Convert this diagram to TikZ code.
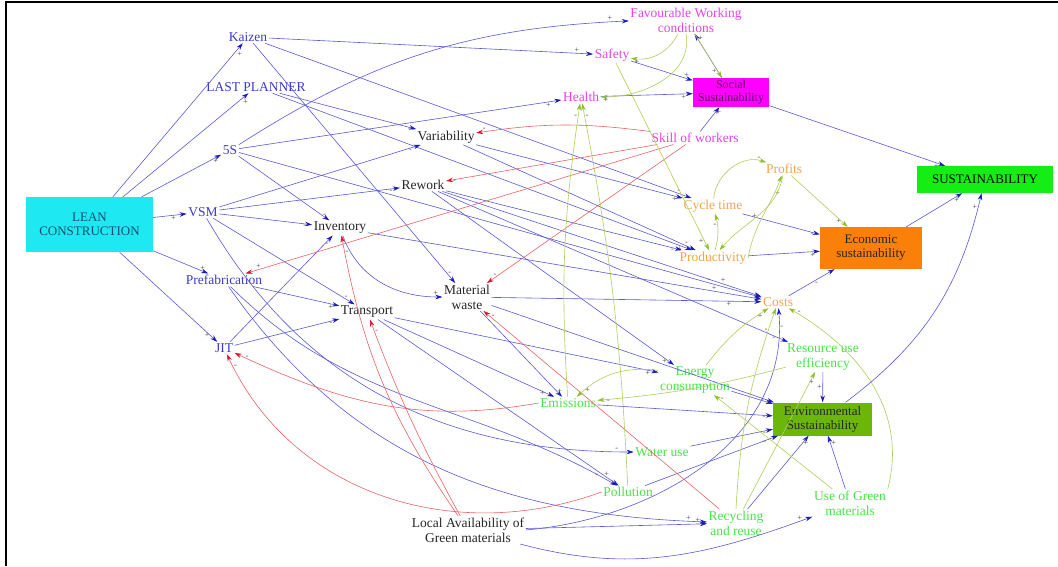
\documentclass[tikz,border=0pt]{standalone}
\usepackage{fontspec}
\setmainfont{Liberation Serif}
\usetikzlibrary{arrows.meta}
\definecolor{lblue}{RGB}{90,90,215}
\definecolor{tblue}{RGB}{25,25,190}
\definecolor{lred}{RGB}{232,100,100}
\definecolor{tred}{RGB}{220,20,40}
\definecolor{lgreen}{RGB}{175,205,95}
\definecolor{tgreen}{RGB}{140,190,40}
\definecolor{nblue}{RGB}{60,60,205}
\definecolor{nmag}{RGB}{230,70,230}
\definecolor{norange}{RGB}{240,165,80}
\definecolor{ngreen}{RGB}{70,230,70}
\definecolor{cyanf}{RGB}{30,232,242}
\definecolor{leantext}{RGB}{20,80,110}
\definecolor{magf}{RGB}{255,0,255}
\definecolor{magtext}{RGB}{90,0,100}
\definecolor{greenf}{RGB}{20,238,20}
\definecolor{orangef}{RGB}{250,128,10}
\definecolor{envf}{RGB}{108,182,10}
\tikzset{
  lb/.style={draw=lblue, line width=0.6pt, -{Stealth[length=7pt,width=4.5pt,color=tblue]}},
  lr/.style={draw=lred, line width=0.6pt, -{Stealth[length=7pt,width=4.5pt,color=tred]}},
  lg/.style={draw=lgreen, line width=0.6pt, -{Stealth[length=7pt,width=4.5pt,color=tgreen]}},
  sg/.style={font=\fontsize{8}{8}\selectfont, text=black!75, inner sep=0.8pt},
  tb/.style={text=nblue},
  tk/.style={text=black!85},
  tm/.style={text=nmag},
  to/.style={text=norange},
  tg/.style={text=ngreen},
  box/.style={font=\fontsize{13}{14}\selectfont, inner sep=2pt},
}
\begin{document}
\begin{tikzpicture}[x=1pt,y=1pt, every node/.style={font=\fontsize{13.5}{15}\selectfont, align=center, inner sep=1.5pt}]
\useasboundingbox (0,0) rectangle (1058,-566);
\fill[white] (0,0) rectangle (1058,-566);
\draw[line width=1.6pt] (6,-566) -- (6,-2) -- (1058,-2);

% nodes
\node[box, fill=cyanf, text=leantext, minimum width=127pt, minimum height=55pt] (lean) at (89.5,-224.5) {LEAN\\CONSTRUCTION};
\node[tb] (kaizen) at (248,-37) {Kaizen};
\node[tb] (lp) at (256,-87) {LAST PLANNER};
\node[tb] (fs) at (230,-150) {5S};
\node[tb] (vsm) at (203,-212) {VSM};
\node[tb] (prefab) at (224,-280) {Prefabrication};
\node[tb] (jit) at (224,-348) {JIT};
\node[tk] (inv) at (340,-228) {Inventory};
\node[tk] (trans) at (367,-312) {Transport};
\node[tk] (var) at (446,-137) {Variability};
\node[tk] (rew) at (423,-185) {Rework};
\node[tk] (mw) at (467,-297) {Material\\waste};
\node[tm] (fav) at (686,-20) {Favourable Working\\conditions};
\node[tm] (safety) at (612,-55) {Safety};
\node[tm] (health) at (581,-97) {Health};
\node[tm] (skill) at (695,-138) {Skill of workers};
\node[box, fill=magf, text=magtext, minimum width=76pt, minimum height=29pt, font=\fontsize{12}{13}\selectfont] (social) at (731,-92.5) {Social\\Sustainability};
\node[box, fill=greenf, text=black, minimum width=136pt, minimum height=27pt] (sust) at (985,-179.5) {SUSTAINABILITY};
\node[to] (profits) at (784,-169) {Profits};
\node[to] (cycle) at (713,-206) {Cycle time};
\node[to] (prod) at (713,-258) {Productivity};
\node[box, fill=orangef, text=black!85, minimum width=102pt, minimum height=42pt] (econ) at (871,-248) {Economic\\sustainability};
\node[to] (costs) at (778,-302) {Costs};
\node[tg] (res) at (823,-357) {Resource use\\efficiency};
\node[tg] (energy) at (695,-380) {Energy\\consumption};
\node[tg] (emis) at (568,-403) {Emissions};
\node[box, fill=envf, text=black!85, minimum width=99pt, minimum height=33pt] (env) at (822.5,-419) {Environmental\\Sustainability};
\node[tg] (water) at (662,-452) {Water use};
\node[tg] (poll) at (628,-492) {Pollution};
\node[tg] (recyc) at (736,-523) {Recycling\\and reuse};
\node[tg] (ugm) at (850,-503) {Use of Green\\materials};
\node[tk] (local) at (468,-530) {Local Availability of\\Green materials};

% blue links
\draw[lb] (lean) -- node[sg,pos=.95,below right]{+} (kaizen);
\draw[lb] (lean) -- node[sg,pos=.95,below right]{+} (lp);
\draw[lb] (lean) -- node[sg,pos=.93,below]{+} (fs);
\draw[lb] (lean) -- node[sg,pos=.6,below]{+} (vsm);
\draw[lb] (lean) -- node[sg,pos=.9,above]{+} (prefab);
\draw[lb] (lean) -- node[sg,pos=.93,left]{+} (jit);
\draw[lb] (kaizen) -- node[sg,pos=.95,above]{+} (safety);
\draw[lb] (kaizen) -- node[sg,pos=.97,above]{-} (cycle);
\draw[lb] (kaizen) -- node[sg,pos=.96,right]{-} (mw);
\draw[lb] (lp) -- node[sg,pos=.95,below]{-} (var);
\draw[lb] (lp) -- node[sg,pos=.97,below]{+} (prod);
\draw[lb] (fs) to[bend left=15] node[sg,pos=.96,above]{+} (fav);
\draw[lb] (fs) -- node[sg,pos=.96,below]{+} (health);
\draw[lb] (fs) -- node[sg,pos=.92,right]{-} (inv);
\draw[lb] (fs) -- node[sg,pos=.9,above]{-} (costs);
\draw[lb] (vsm) -- node[sg,pos=.95,below]{-} (var);
\draw[lb] (vsm) -- node[sg,pos=.95,below]{-} (rew);
\draw[lb] (vsm) -- node[sg,pos=.92,below]{-} (inv);
\draw[lb] (vsm) -- node[sg,pos=.94,above]{-} (trans);
\draw[lb] (vsm) to[out=-60,in=180] node[sg,pos=.97,above]{-} (water);
\draw[lb] (prefab) -- node[sg,pos=.9,below]{+} (trans);
\draw[lb] (prefab) to[out=-55,in=178] node[sg,pos=.97,above]{+} (recyc);
\draw[lb] (prefab) to[out=-45,in=150] node[sg,pos=.96,left]{-} (poll);
\draw[lb] (jit) -- node[sg,pos=.92,right]{-} (inv);
\draw[lb] (jit) -- node[sg,pos=.92,below]{-} (trans);
\draw[lb] (inv) to[out=-70,in=180] node[sg,pos=.95,above]{+} (mw);
\draw[lb] (inv) -- node[sg,pos=.88,above]{+} (costs);
\draw[lb] (trans) -- node[sg,pos=.95,left]{+} (emis);
\draw[lb] (trans) -- node[sg,pos=.95,above]{+} (poll);
\draw[lb] (trans) -- node[sg,pos=.96,below]{+} (energy);
\draw[lb] (var) -- node[sg,pos=.96,below]{+} (cycle);
\draw[lb] (var) -- node[sg,pos=.96,above]{-} (prod);
\draw[lb] (rew) -- node[sg,pos=.96,below]{-} (prod);
\draw[lb] (rew) -- node[sg,pos=.88,above]{+} (costs);
\draw[lb] (rew) -- node[sg,pos=.96,below]{-} (res);
\draw[lb] (rew) -- node[sg,pos=.96,below]{+} (energy);
\draw[lb] (mw) -- node[sg,pos=.88,below]{+} (costs);
\draw[lb] (mw) -- node[sg,pos=.93,right]{+} (emis);
\draw[lb] (mw) -- node[sg,pos=.96,below]{-} (env);
\draw[lb] (safety) -- node[sg,pos=.9,above]{+} (social);
\draw[lb] (health) -- node[sg,pos=.9,below]{+} (social);
\draw[lb] (skill) -- node[sg,pos=.8,right]{+} (social);
\draw[lb] (social) -- node[sg,pos=.9,right]{+} (fav);
\draw[lb] (social) -- node[sg,pos=.95,below]{+} (sust);
\draw[lb] (econ) -- node[sg,pos=.9,below]{+} (sust);
\draw[lb] (env) to[bend right=20] node[sg,pos=.95,left]{+} (sust);
\draw[lb] (cycle) -- node[sg,pos=.9,below]{-} (econ);
\draw[lb] (prod) -- node[sg,pos=.9,below]{+} (econ);
\draw[lb] (costs) -- node[sg,pos=.55,below right]{-} (econ);
\draw[lb] (res) -- node[sg,pos=.5,left]{+} (env);
\draw[lb] (local.east) to[out=5,in=-85] node[sg,pos=.95,right]{-} (costs);
\draw[lb] (energy) -- node[sg,pos=.9,below]{-} (env);
\draw[lb] (emis) -- node[sg,pos=.95,below]{-} (env);
\draw[lb] (water) -- node[sg,pos=.9,below]{-} (env);
\draw[lb] (poll) -- node[sg,pos=.9,below]{-} (env);
\draw[lb] (recyc) -- node[sg,pos=.9,right]{+} (env);
\draw[lb] (ugm) -- node[sg,pos=.85,right]{+} (env);
\draw[lb] (local) -- node[sg,pos=.95,above]{+} (recyc);
\draw[lb] (local) to[out=-15,in=200] node[sg,pos=.96,above]{+} (ugm);

% red links
\draw[lr] (skill) to[bend right=8] node[sg,pos=.96,above]{-} (var);
\draw[lr] (skill) -- node[sg,pos=.96,below]{-} (rew);
\draw[lr] (skill) -- node[sg,pos=.97,above]{+} (prefab);
\draw[lr] (skill) -- node[sg,pos=.96,above]{-} (mw);
\draw[lr] (local) to[bend left=12] node[sg,pos=.95,right]{-} (inv);
\draw[lr] (local) to[bend left=4] node[sg,pos=.95,right]{-} (trans);
\draw[lr] (recyc) -- node[sg,pos=.96,above]{-} (mw);
\draw[lr] (emis.west) to[out=190,in=-25] node[sg,pos=.97,right]{-} (jit);
\draw[lr] (poll.west) to[out=200,in=-65] node[sg,pos=.97,right]{-} (jit);

% olive links
\draw[lg] (fav) to[bend left=35] node[sg,pos=.9,below]{+} (safety);
\draw[lg] (fav) -- node[sg,pos=.85,left]{+} (social);
\draw[lg] (fav.south) to[out=-80,in=0] node[sg,pos=.96,below]{+} (health);
\draw[lg] (emis) to[bend left=6] node[sg,pos=.96,left]{-} (health);
\draw[lg] (poll) to[bend right=4] node[sg,pos=.97,right]{-} (health);
\draw[lg] (safety) -- node[sg,pos=.95,left]{+} (prod);
\draw[lg] (cycle) to[out=85,in=160] node[sg,pos=.9,above]{-} (profits);
\draw[lg] (prod.east) to[out=80,in=-110] node[sg,pos=.8,right]{+} (profits);
\draw[lg] (profits) to[out=-100,in=50] node[sg,pos=.5,left]{+} (prod);
\draw[lg] (prod) to[bend right=15] node[sg,pos=.7,left]{-} (cycle);
\draw[lg] (profits) -- node[sg,pos=.9,left]{+} (econ);
\draw[lg] (energy) to[bend right=25] node[sg,pos=.9,right]{+} (emis);
\draw[lg] (energy) to[bend left=10] node[sg,pos=.85,right]{+} (costs);
\draw[lg] (ugm) -- node[sg,pos=.95,right]{-} (energy);
\draw[lg] (ugm.north east) to[out=75,in=-30] node[sg,pos=.95,above]{-} (costs);
\draw[lg] (res) to[bend left=5] node[sg,pos=.95,below]{-} (emis);
\draw[lg] (recyc) -- node[sg,pos=.95,below]{+} (res);
\draw[lg] (recyc.north) to[bend left=8] node[sg,pos=.9,left]{-} (costs);
\end{tikzpicture}
\end{document}
